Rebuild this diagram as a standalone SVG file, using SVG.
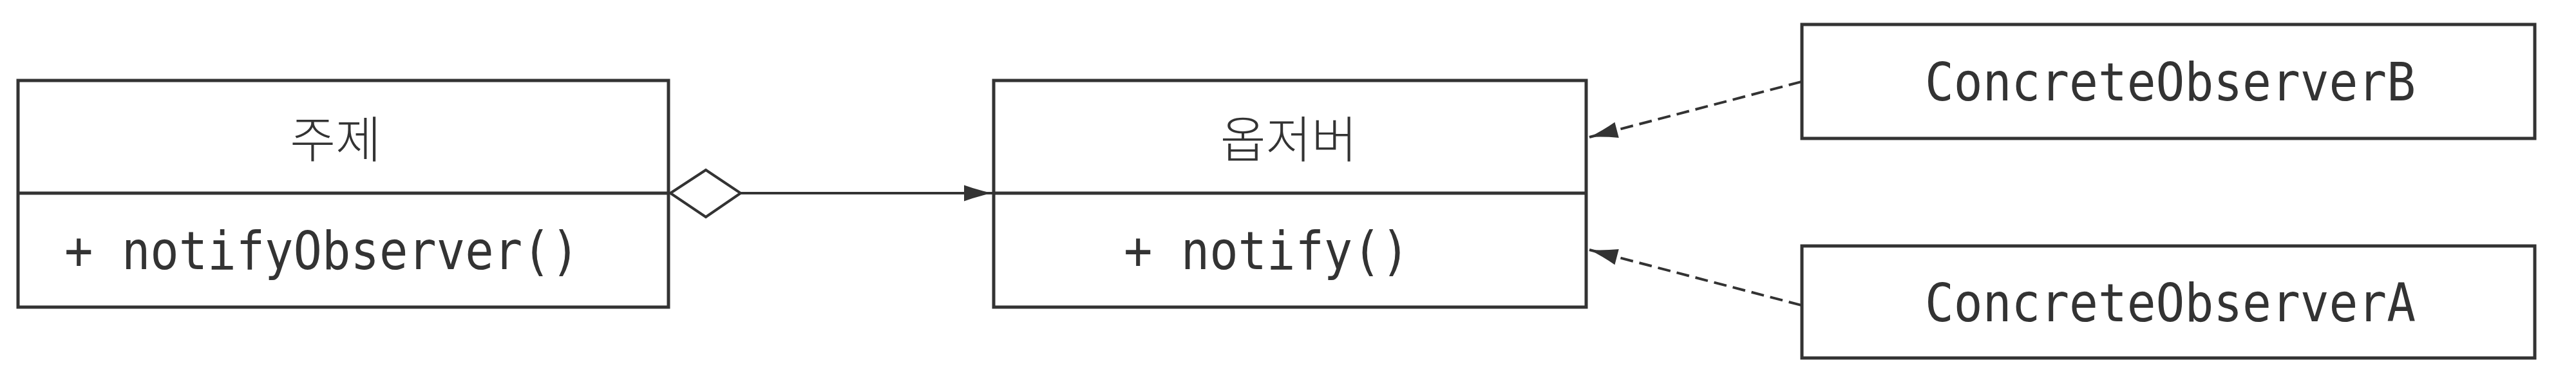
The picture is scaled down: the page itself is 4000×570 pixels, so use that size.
<svg xmlns="http://www.w3.org/2000/svg" width="4000" height="570" viewBox="0 0 4000 570">
<style>
.box{fill:#ffffff;stroke:#333333;stroke-width:5}
.div{stroke:#333333;stroke-width:5}
.kr{font-family:"Noto Sans CJK KR","Noto Sans",sans-serif;font-weight:300;font-size:77px;fill:#333333;text-anchor:middle}
.mono{font-family:"DejaVu Sans Mono","Liberation Mono",monospace;font-size:82px;fill:#333333}
.conn{fill:none;stroke:#333333;stroke-width:4}
.dash{fill:none;stroke:#333333;stroke-width:4;stroke-dasharray:20 10}
</style>
<defs>
<marker id="arrow" markerUnits="userSpaceOnUse" markerWidth="46" markerHeight="27" viewBox="0 0 46 27" refX="45" refY="13.5" orient="auto">
<path d="M1,1 Q23,9 45,13.5 Q23,18 1,26 Z" fill="#333333"/>
</marker>
</defs>
<g id="subject">
<rect class="box" x="28" y="125" width="1010" height="352"/>
<line class="div" x1="28" y1="300" x2="1038" y2="300"/>
<text class="kr" x="521" y="245">주제</text>
<text class="mono" x="100" y="418" textLength="800" lengthAdjust="spacingAndGlyphs">+ notifyObserver()</text>
</g>
<g id="observer">
<rect class="box" x="1543" y="125" width="920" height="352"/>
<line class="div" x1="1543" y1="300" x2="2463" y2="300"/>
<text class="kr" x="2001" y="245">옵저버</text>
<text class="mono" x="1745" y="418" textLength="444" lengthAdjust="spacingAndGlyphs">+ notify()</text>
</g>
<g id="concreteObserverB">
<rect class="box" x="2798" y="38" width="1138" height="177"/>
<text class="mono" x="2989" y="156" textLength="762" lengthAdjust="spacingAndGlyphs">ConcreteObserverB</text>
</g>
<g id="concreteObserverA">
<rect class="box" x="2798" y="382" width="1138" height="174"/>
<text class="mono" x="2989" y="499" textLength="762" lengthAdjust="spacingAndGlyphs">ConcreteObserverA</text>
</g>
<g id="connectors">
<polygon points="1041,300 1096,264 1150,300 1096,337" fill="#ffffff" stroke="#333333" stroke-width="4"/>
<line class="conn" x1="1150" y1="300" x2="1541" y2="300" marker-end="url(#arrow)"/>
<line class="dash" x1="2797" y1="127" x2="2468" y2="213" marker-end="url(#arrow)"/>
<line class="dash" x1="2797" y1="474" x2="2468" y2="388" marker-end="url(#arrow)"/>
</g>
</svg>
